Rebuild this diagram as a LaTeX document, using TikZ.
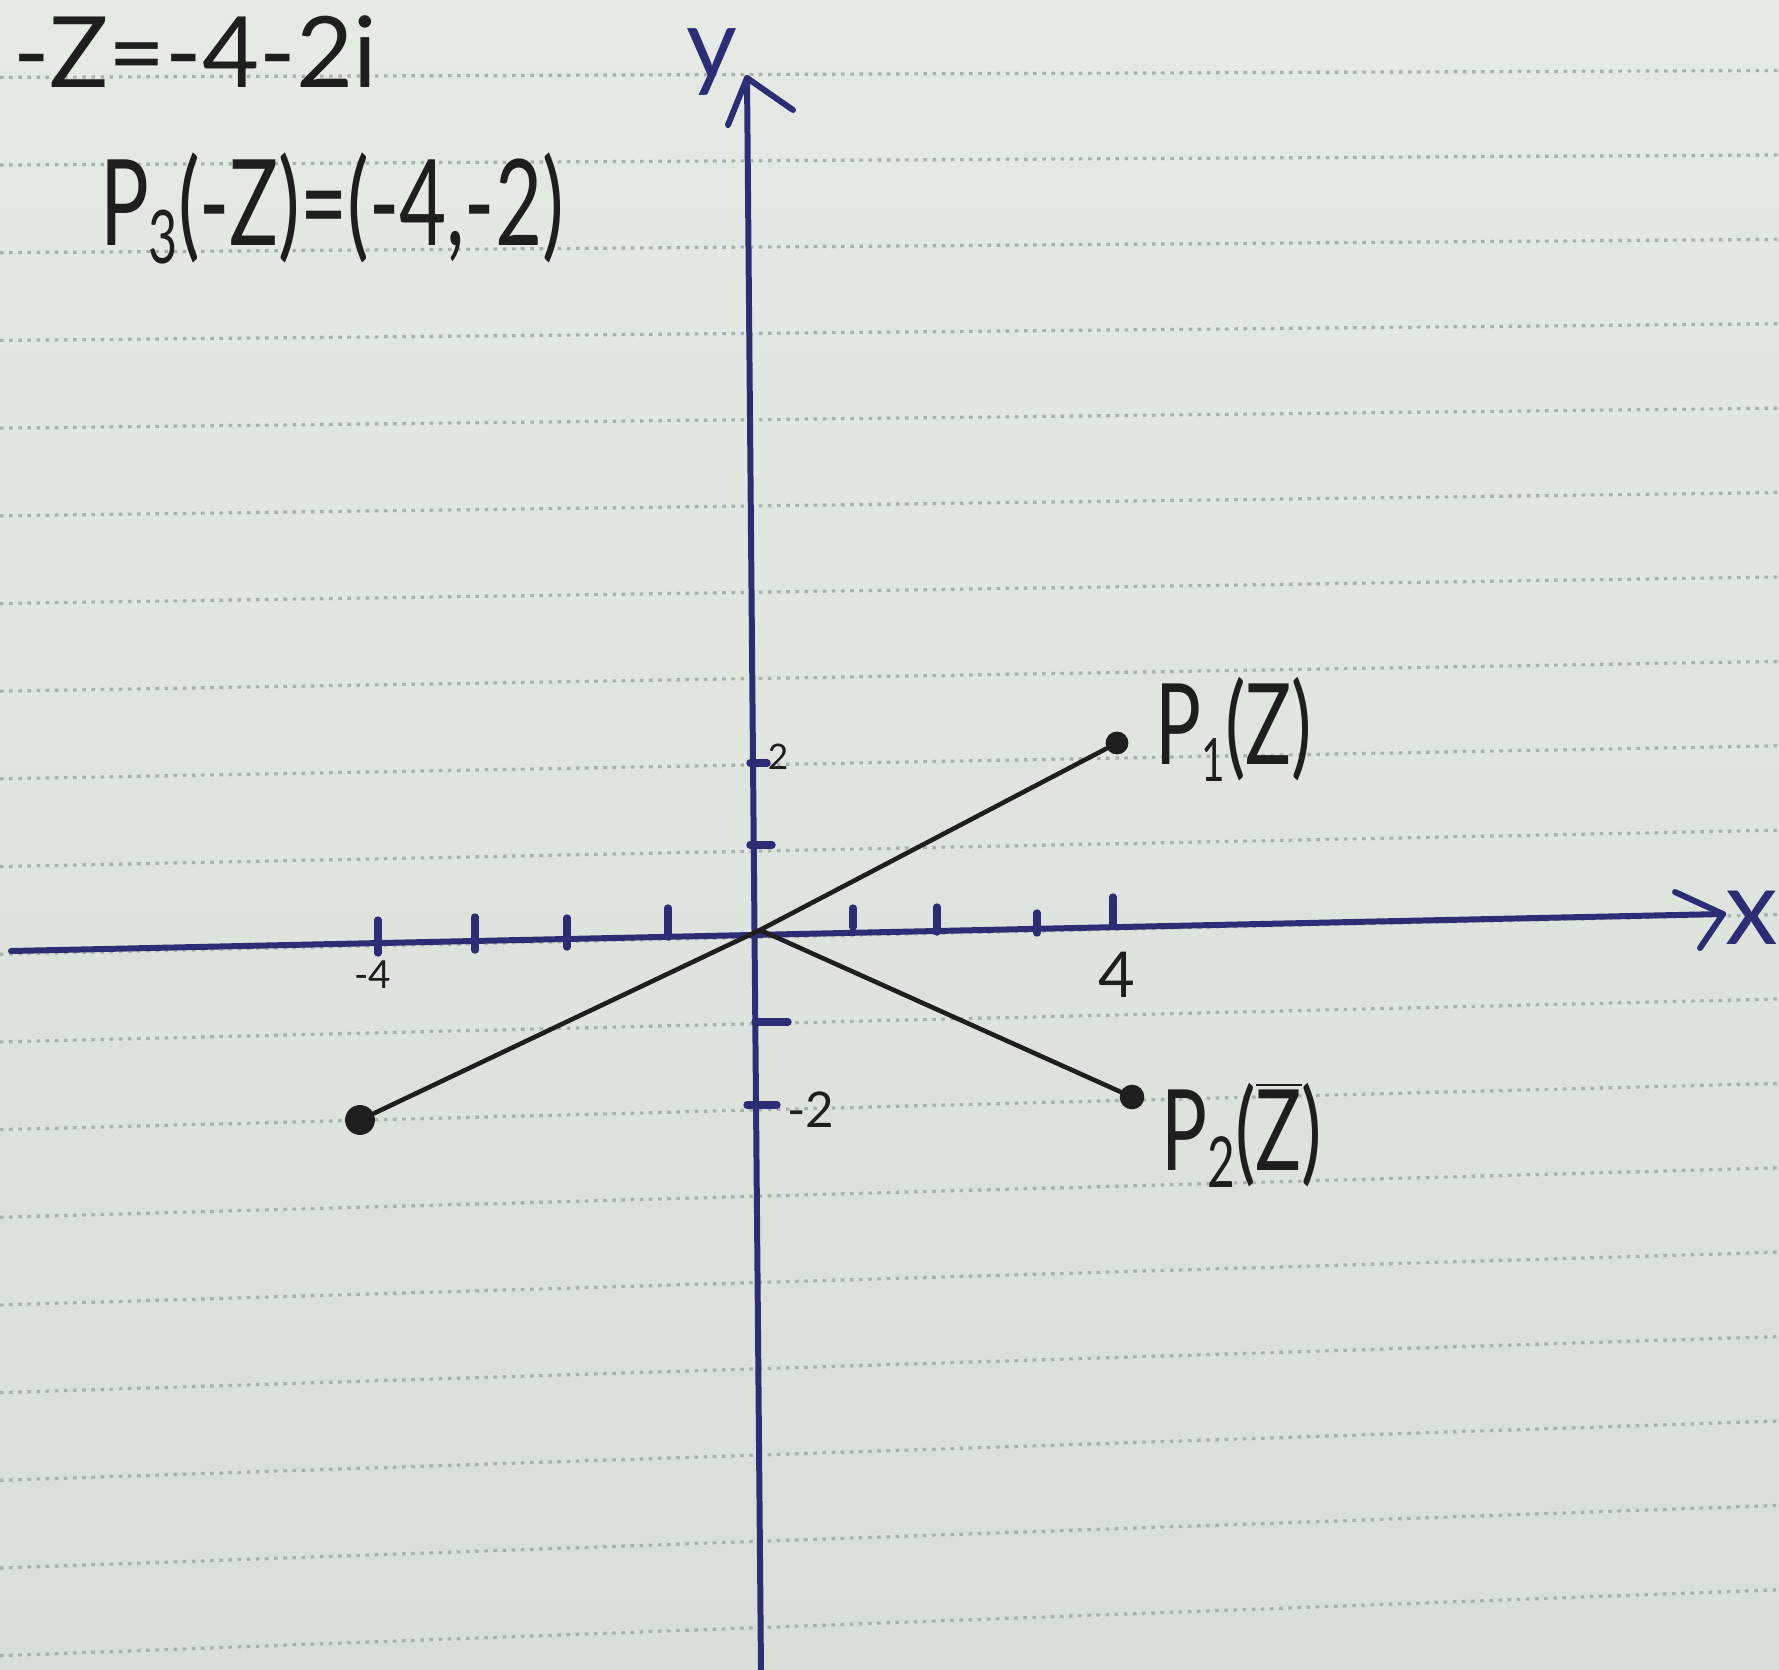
\documentclass[tikz,border=0pt]{standalone}
\usepackage{fontspec}
\setmainfont{Lato}
\definecolor{paper}{RGB}{230,234,229}
\definecolor{paperdark}{RGB}{217,222,216}
\definecolor{rulecol}{RGB}{170,176,173}
\definecolor{ink}{RGB}{30,30,30}
\definecolor{pen}{RGB}{45,45,118}
\newcommand{\fs}[1]{\fontsize{#1}{#1}\selectfont}
\begin{document}
\begin{tikzpicture}[x=0.01cm,y=-0.01cm,
  axisline/.style={pen, line width=1.7pt, line cap=round, line join=round},
  seg/.style={ink, line width=1.3pt, line cap=round},
  tickmark/.style={pen, line width=2.1pt, line cap=round},
  dot/.style={circle, fill=ink, inner sep=0pt, minimum size=#1},
  hand/.style={text=ink, inner sep=0pt},
  ruled/.style={rulecol, line width=0.9pt, dash pattern=on 1pt off 1.6pt}]

% paper
\shade[top color=paper, bottom color=paperdark] (0,0) rectangle (1779,1670);
\useasboundingbox (0,0) rectangle (1779,1670);
\foreach \k in {0,...,18}{
  \pgfmathsetmacro\yl{77+87.5*\k}
  \pgfmathsetmacro\yr{72+85.1*\k}
  \pgfmathsetmacro\sl{(\yr-\yl)/1300}
  \pgfmathsetmacro\ya{\yl-100*\sl}
  \pgfmathsetmacro\yb{\yl+1679*\sl}
  \draw[ruled] (0,\ya) -- (1779,\yb);
}

% axes
\coordinate (xs) at (11,951);
\coordinate (xe) at (1723,914);
\coordinate (ys) at (761,1672);
\coordinate (ye) at (747,78);
\coordinate (O) at (760,930);
\draw[axisline] (xs) -- (xe);
\draw[axisline] (1675,892) -- (xe) -- (1700,948);
\draw[axisline] (ys) -- (ye);
\draw[axisline] (728,125) -- (ye) -- (793,110);

% x ticks
\draw[tickmark] (378,920) -- (378,953);
\draw[tickmark] (475,917) -- (475,950);
\draw[tickmark] (567,918) -- (567,947);
\draw[tickmark] (668,908) -- (668,937);
\draw[tickmark] (853,908) -- (853,927);
\draw[tickmark] (937,907) -- (937,932);
\draw[tickmark] (1037,913) -- (1037,933);
\draw[tickmark] (1113,897) -- (1113,925);
% y ticks
\draw[tickmark] (750,763) -- (767,763);
\draw[tickmark] (750,845) -- (772,845);
\draw[tickmark] (755,1022) -- (788,1022);
\draw[tickmark] (747,1105) -- (777,1105);

% points and segments
\node[dot=6.5pt] (P1) at (1117,743) {};
\node[dot=7pt] (P2) at (1132,1097) {};
\node[dot=8.5pt] (P3) at (360,1120) {};
\draw[seg] (O) -- (P1);
\draw[seg] (O) -- (P2);
\draw[seg] (O) -- (P3);

% axis labels
\node[text=pen, inner sep=0pt, font=\fs{28}] (ylab) at (712,62) {y};
\node[text=pen, inner sep=0pt, font=\fs{30}] (xlab) at (1752,918) {x};

% tick labels
\node[hand, font=\fs{11}] (lm4) at (373,975) {-4};
\node[hand, font=\fs{18}] (l4) at (1117,975) {4};
\node[hand, font=\fs{10}] (l2) at (778,757) {2};
\node[hand, font=\fs{14}] (lm2) at (811,1110) {-2};

% point labels
\node[hand, font=\fs{32}] (tP1) at (1234,729)
  {\scalebox{0.68}[1]{P\raisebox{-0.15em}{\fs{17}1}(Z)}};
\node[hand, font=\fs{32}] (tP2) at (1242,1135)
  {\scalebox{0.68}[1]{P\raisebox{-0.15em}{\fs{20}2}(\ensuremath{\overline{\hbox{Z}}})}};

% top texts
\node[hand, font=\fs{28}] (t1) at (195,52) {-Z=-4-2i};
\node[hand, font=\fs{34}] (t2) at (332,208)
  {\scalebox{0.68}[1]{P\raisebox{-0.15em}{\fs{21}3}(-Z)=(-4,-2)}};
\end{tikzpicture}
\end{document}
